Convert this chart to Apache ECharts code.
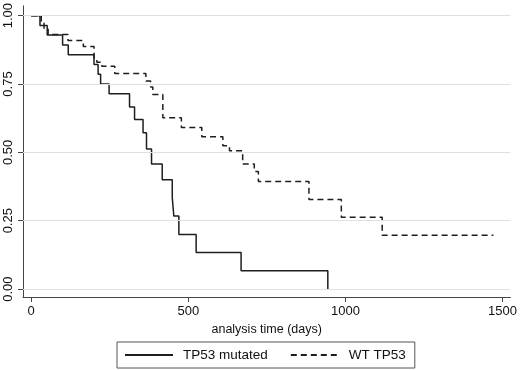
<!DOCTYPE html>
<html>
<head>
<meta charset="utf-8">
<script src="https://cdn.jsdelivr.net/npm/echarts@6/dist/echarts.min.js"></script>
<style>
  html, body { margin: 0; padding: 0; background: #ffffff; }
  #chart { width: 520px; height: 370px; }
</style>
</head>
<body>
<div id="chart"></div>
<script>
// Kaplan-Meier estimates (days, survival)
const mutatedDays = [0, 28, 51, 100, 118, 200, 213, 221, 248, 313, 329, 356, 367, 383, 417, 449, 454, 470, 525, 668, 944];
const mutatedSurv = [1.0, 0.964, 0.929, 0.893, 0.857, 0.821, 0.786, 0.750, 0.714, 0.666, 0.620, 0.572, 0.512, 0.457, 0.400, 0.334, 0.267, 0.200, 0.134, 0.067, 0.0];

const wtDays = [0, 32, 41, 54, 117, 166, 200, 209, 225, 266, 365, 380, 387, 419, 478, 543, 610, 631, 673, 710, 723, 884, 987, 1117, 1471];
const wtSurv = [1.0, 0.976, 0.953, 0.931, 0.909, 0.887, 0.844, 0.830, 0.815, 0.788, 0.761, 0.739, 0.712, 0.627, 0.591, 0.557, 0.524, 0.506, 0.457, 0.430, 0.393, 0.328, 0.263, 0.197, 0.197];

const xTicks = [0, 500, 1000, 1500];
const yTicks = [0, 0.25, 0.5, 0.75, 1];
const yTickLabels = ['0.00', '0.25', '0.50', '0.75', '1.00'];
const seriesNames = ['TP53 mutated', 'WT TP53'];

const pairs = (xs, ys) => xs.map((x, i) => [x, ys[i]]);

const font = 'Liberation Sans, Arial, Helvetica, sans-serif';
const chart = echarts.init(document.getElementById('chart'));

chart.setOption({
    backgroundColor: '#ffffff',
    animation: false,
    grid: { left: 23, right: 8, top: 4, bottom: 73 },
    xAxis: {
        type: 'value',
        min: -26,
        max: 1525,
        name: 'analysis time (days)',
        nameLocation: 'middle',
        nameGap: 23,
        nameTextStyle: { color: '#111', fontSize: 12.5, fontFamily: font },
        axisLine: { show: true, onZero: false, lineStyle: { color: '#444', width: 1 } },
        axisTick: { show: true, length: 5, customValues: xTicks, lineStyle: { color: '#444' } },
        axisLabel: {
            customValues: xTicks,
            margin: 8,
            color: '#111',
            fontSize: 13,
            fontFamily: font,
            formatter: function (v) { return String(v); }
        },
        splitLine: { show: false }
    },
    yAxis: {
        type: 'value',
        min: -0.029,
        max: 1.036,
        axisLine: { show: true, onZero: false, lineStyle: { color: '#444', width: 1 } },
        axisTick: { show: true, length: 5, customValues: yTicks, lineStyle: { color: '#444' } },
        axisLabel: {
            customValues: yTicks,
            rotate: 90,
            margin: 8,
            color: '#111',
            fontSize: 13,
            fontFamily: font,
            formatter: function (v) {
                let i = yTicks.indexOf(Math.round(v * 100) / 100);
                return i >= 0 ? yTickLabels[i] : '';
            }
        },
        splitLine: { show: false }
    },
    legend: {
        data: seriesNames,
        left: 117,
        bottom: 2,
        orient: 'horizontal',
        padding: [6, 9, 6, 7],
        itemGap: 22,
        itemWidth: 48,
        itemHeight: 10,
        borderColor: '#555',
        borderWidth: 1,
        itemStyle: { opacity: 0 },
        textStyle: { color: '#111', fontSize: 13.5, fontFamily: font, padding: [0, 0, 0, 5] }
    },
    series: [
        {
            // light horizontal grid lines at the y ticks
            name: '.grid',
            type: 'line',
            symbol: 'none',
            silent: true,
            z: 1,
            data: [[-26, 0.5]],
            lineStyle: { opacity: 0 },
            markLine: {
                silent: true,
                symbol: ['none', 'none'],
                animation: false,
                label: { show: false },
                lineStyle: { color: '#e0e0e0', width: 1.2, type: 'solid', opacity: 1 },
                data: yTicks.map(v => ({ yAxis: v }))
            }
        },
        {
            name: seriesNames[0],
            type: 'line',
            step: 'end',
            symbol: 'none',
            z: 3,
            data: pairs(mutatedDays, mutatedSurv),
            lineStyle: { color: '#1e1e1e', width: 1.5, type: 'solid' },
            itemStyle: { color: '#1e1e1e' }
        },
        {
            name: seriesNames[1],
            type: 'line',
            step: 'end',
            symbol: 'none',
            z: 3,
            data: pairs(wtDays, wtSurv),
            lineStyle: { color: '#1e1e1e', width: 1.5, type: [6, 4] },
            itemStyle: { color: '#1e1e1e' }
        }
    ]
});
</script>
</body>
</html>
